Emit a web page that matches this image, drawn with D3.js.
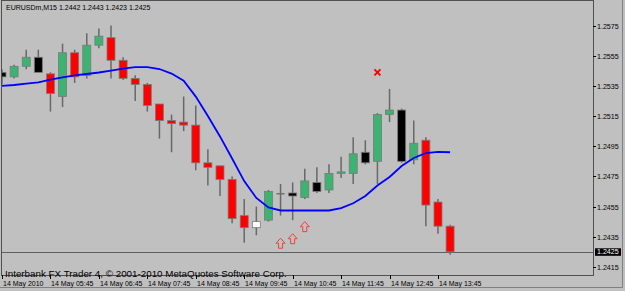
<!doctype html>
<html lang="en">
<head>
<meta charset="UTF-8">
<title>EURUSDm,M15</title>
<style>
    body { margin: 0; background: #c0c0c0; }
    svg { display: block; font-family: "Liberation Sans", Arial, sans-serif; }
</style>
</head>
<body>
<svg width="625" height="291"></svg>
<script src="https://cdn.jsdelivr.net/npm/d3@7/dist/d3.min.js"></script>
<script>
// 15 minute bars, 14 May 2010
const bars = ["04:45","05:00","05:15","05:30","05:45","06:00","06:15","06:30","06:45","07:00",
    "07:15","07:30","07:45","08:00","08:15","08:30","08:45","09:00","09:15","09:30",
    "09:45","10:00","10:15","10:30","10:45","11:00","11:15","11:30","11:45","12:00",
    "12:15","12:30","12:45","13:00","13:15","13:30","13:45","14:00"];
const opens = [1.2544,1.2541,1.2548,1.2554,1.2543,1.2528,1.2557,1.2542,1.2562,1.2567,
    1.2552,1.2540,1.2536,1.2523,1.2512,1.2511,1.2509,1.2484,1.2482,1.2473,
    1.2449,1.2441,1.2446,1.2464,1.2464,1.2461,1.2471,1.2466,1.2477,1.2477,
    1.2491,1.2485,1.2516,1.2519,1.2486,1.2499,1.2458,1.2442];
const highs = [1.2546,1.2549,1.2559,1.2559,1.2544,1.2563,1.2559,1.2570,1.2573,1.2575,
    1.2554,1.2542,1.2537,1.2523,1.2516,1.2528,1.2522,1.2493,1.2482,1.2475,
    1.2460,1.2455,1.2466,1.2470,1.2471,1.2480,1.2481,1.2483,1.2488,1.2501,
    1.2499,1.2517,1.2533,1.2520,1.2512,1.2501,1.2460,1.2443];
const lows = [1.2536,1.2540,1.2546,1.2544,1.2518,1.2521,1.2537,1.2540,1.2560,1.2540,
    1.2539,1.2525,1.2518,1.2500,1.2491,1.2505,1.2479,1.2469,1.2462,1.2444,
    1.2431,1.2436,1.2445,1.2449,1.2446,1.2460,1.2464,1.2464,1.2474,1.2470,
    1.2483,1.2470,1.2511,1.2484,1.2483,1.2442,1.2437,1.2423];
const closes = [1.2541,1.2548,1.2554,1.2544,1.2530,1.2557,1.2541,1.2562,1.2568,1.2552,
    1.2540,1.2536,1.2522,1.2512,1.2510,1.2509,1.2484,1.2481,1.2473,1.2447,
    1.2441,1.2445,1.2465,1.2464,1.2462,1.2472,1.2465,1.2477,1.2478,1.2490,
    1.2484,1.2516,1.2519,1.2485,1.2497,1.2456,1.2442,1.2425];
// candle paint: g green, r red, k black, w white, d doji
const paints = ["k","g","g","k","r","g","r","g","g","r",
    "r","r","r","r","r","r","r","r","r","r",
    "r","w","g","d","k","g","k","g","g","g",
    "k","g","g","k","g","r","r","r"];
const ma = [1.25350,1.25356,1.25365,1.25373,1.25391,1.25407,1.25420,1.25429,1.25439,1.25452,
    1.25464,1.25475,1.25475,1.25462,1.25432,1.25385,1.25279,1.25151,1.25015,1.24869,
    1.24719,1.24607,1.24544,1.24524,1.24524,1.24524,1.24524,1.24524,1.24540,1.24572,
    1.24620,1.24690,1.24746,1.24819,1.24872,1.24905,1.24913,1.24910];

const arrowBars = ["10:30","10:45","11:00"];
const arrowPrices = [1.2434,1.2437,1.2445];
const crossBars = ["12:30"];
const crossPrices = [1.2544];

const priceTicks = [1.2575,1.2555,1.2535,1.2515,1.2495,1.2475,1.2455,1.2435,1.2415];
const bidPrice = 1.2425;
const timeTickBars = ["04:45","05:45","06:45","07:45","08:45","09:45","10:45","11:45","12:45","13:45"];
const timeTickLabels = ["14 May 2010","14 May 05:45","14 May 06:45","14 May 07:45","14 May 08:45",
    "14 May 09:45","14 May 10:45","14 May 11:45","14 May 12:45","14 May 13:45"];
const title = "EURUSDm,M15  1.2442 1.2443 1.2423 1.2425";
const copyright = "Interbank FX Trader 4, \u00a9 2001-2010 MetaQuotes Software Corp.";

const svg = d3.select("svg"),
    plotL = 2, plotT = 1, plotR = 593, plotB = 275;

const x = d3.scaleLinear().domain([0, 48.8]).range([plotL, plotR]);
const y = d3.scaleLinear().domain([1.240962, 1.259131]).range([plotB, plotT]);
const xb = t => x(bars.indexOf(t));

svg.append("rect").attr("width", 625).attr("height", 291).attr("fill", "#c0c0c0");
svg.append("path")
    .attr("d", "M622.5,0V287.5H0")
    .attr("fill", "none").attr("stroke", "#808080");

svg.append("clipPath").attr("id", "clip")
    .append("rect").attr("x", plotL).attr("y", plotT)
    .attr("width", plotR - plotL).attr("height", plotB - plotT);

const g = svg.append("g").attr("clip-path", "url(#clip)");

// bid line
g.append("line")
    .attr("x1", plotL).attr("x2", plotR)
    .attr("y1", Math.round(y(bidPrice)) + 0.5).attr("y2", Math.round(y(bidPrice)) + 0.5)
    .attr("stroke", "#606060");

const fills = {g: "#3cb371", r: "#ff0000", k: "#000000", w: "#ffffff", d: "#707070"};
const idx = d3.range(bars.length);

g.selectAll("line.wick").data(idx).join("line")
    .attr("class", "wick")
    .attr("x1", i => x(i)).attr("x2", i => x(i))
    .attr("y1", i => y(highs[i])).attr("y2", i => y(lows[i]))
    .attr("stroke", "#686868").attr("stroke-width", 1.5);

g.selectAll("rect.body").data(idx).join("rect")
    .attr("class", "body")
    .attr("x", i => x(i) - 4)
    .attr("width", 8)
    .attr("y", i => y(Math.max(opens[i], closes[i])))
    .attr("height", i => Math.max(1.5, Math.abs(y(opens[i]) - y(closes[i]))))
    .attr("fill", i => fills[paints[i]])
    .attr("stroke", i => paints[i] === "d" ? "none" : "#7a7a7a")
    .attr("stroke-width", 0.8);

// moving average
g.append("path")
    .datum(idx)
    .attr("fill", "none")
    .attr("stroke", "#0000ff")
    .attr("stroke-width", 1.8)
    .attr("d", d3.line().x(i => x(i)).y(i => y(ma[i])));

// signal arrows
const arrow = "M0,0L4.5,5H2V10H-2V5H-4.5Z";
g.selectAll("path.arrow").data(arrowBars).join("path")
    .attr("class", "arrow")
    .attr("transform", (t, j) => `translate(${xb(t)},${y(arrowPrices[j])})`)
    .attr("d", arrow)
    .attr("fill", "none")
    .attr("stroke", "#ff3a3a");

crossBars.forEach((t, j) => {
    const cx = xb(t), cy = y(crossPrices[j]);
    g.append("path")
        .attr("d", `M${cx - 3},${cy - 3}L${cx + 3},${cy + 3}M${cx - 3},${cy + 3}L${cx + 3},${cy - 3}`)
        .attr("stroke", "#ff0000").attr("stroke-width", 2);
});

// frame
svg.append("rect")
    .attr("x", plotL - 0.5).attr("y", plotT - 0.5)
    .attr("width", plotR - plotL + 1).attr("height", plotB - plotT + 1)
    .attr("fill", "none").attr("stroke", "#505050");

// price axis
const ticksG = svg.append("g");
priceTicks.forEach(p => {
    const py = Math.round(y(p)) + 0.5;
    ticksG.append("line").attr("x1", plotR).attr("x2", plotR + 3)
        .attr("y1", py).attr("y2", py).attr("stroke", "#000");
    ticksG.append("text").attr("x", plotR + 4).attr("y", py + 2.5)
        .attr("font-size", 7.1).attr("fill", "#000").text(p.toFixed(4));
});
const by = y(bidPrice);
svg.append("rect").attr("x", plotR + 2).attr("y", by - 3.5)
    .attr("width", 26).attr("height", 7.5).attr("fill", "#000");
svg.append("text").attr("x", plotR + 4).attr("y", by + 2.5)
    .attr("font-size", 7.1).attr("fill", "#fff").text(bidPrice.toFixed(4));

// time axis
timeTickBars.forEach((t, j) => {
    const tx = Math.round(xb(t)) + 0.5;
    svg.append("line").attr("x1", tx).attr("x2", tx)
        .attr("y1", plotB).attr("y2", plotB + 4).attr("stroke", "#000");
    svg.append("text").attr("x", tx + 0.5).attr("y", 285.7)
        .attr("font-size", 7).attr("fill", "#000").text(timeTickLabels[j]);
});

svg.append("text").attr("x", 6).attr("y", 10)
    .attr("font-size", 7).attr("fill", "#000").text(title);
svg.append("text").attr("x", 5).attr("y", 276.5)
    .attr("font-size", 9.8).attr("fill", "#000").text(copyright);
</script>
</body>
</html>
